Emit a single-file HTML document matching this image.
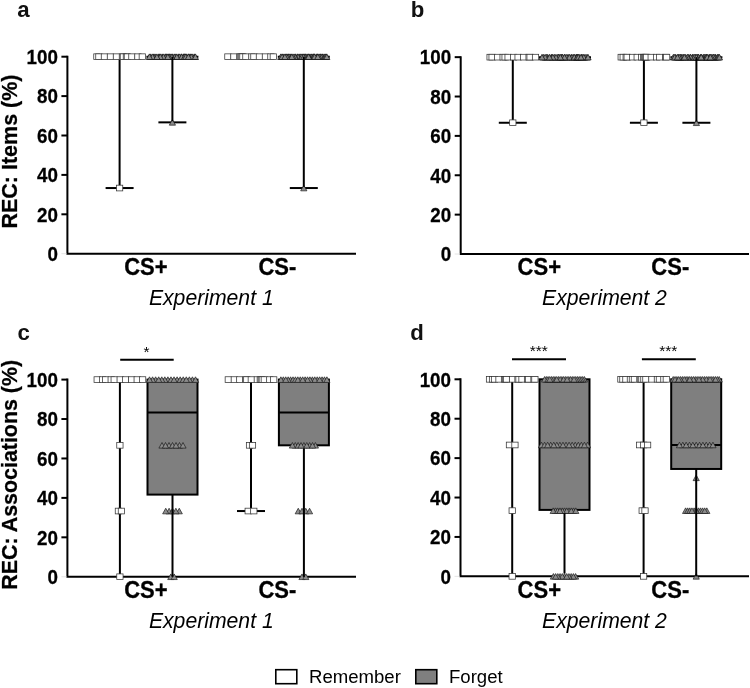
<!DOCTYPE html>
<html><head><meta charset="utf-8"><title>Figure</title>
<style>html,body{margin:0;padding:0;background:#fff;}svg{display:block;will-change:transform;}svg text{font-family:"Liberation Sans",sans-serif;}</style></head>
<body>
<svg width="750" height="688" viewBox="0 0 750 688" fill="#000">
<rect width="750" height="688" fill="#fff"/>
<path d="M67.4 55.7V253.7H356" fill="none" stroke="#000" stroke-width="2" stroke-linejoin="miter" stroke-linecap="butt"/><line x1="61.400" x2="66.4" y1="253.70" y2="253.70" stroke="#e4e4e4" stroke-width="1"/><text transform="translate(57.90,261.00) scale(1,1.11)" text-anchor="end" font-size="18.8" font-weight="bold" stroke="#000" stroke-width="0.25">0</text><line x1="61.400" x2="67.4" y1="214.30" y2="214.30" stroke="#000" stroke-width="2"/><text transform="translate(57.90,221.60) scale(1,1.11)" text-anchor="end" font-size="18.8" font-weight="bold" stroke="#000" stroke-width="0.25">20</text><line x1="61.400" x2="67.4" y1="174.90" y2="174.90" stroke="#000" stroke-width="2"/><text transform="translate(57.90,182.20) scale(1,1.11)" text-anchor="end" font-size="18.8" font-weight="bold" stroke="#000" stroke-width="0.25">40</text><line x1="61.400" x2="67.4" y1="135.50" y2="135.50" stroke="#000" stroke-width="2"/><text transform="translate(57.90,142.80) scale(1,1.11)" text-anchor="end" font-size="18.8" font-weight="bold" stroke="#000" stroke-width="0.25">60</text><line x1="61.400" x2="67.4" y1="96.10" y2="96.10" stroke="#000" stroke-width="2"/><text transform="translate(57.90,103.40) scale(1,1.11)" text-anchor="end" font-size="18.8" font-weight="bold" stroke="#000" stroke-width="0.25">80</text><line x1="61.400" x2="67.4" y1="56.70" y2="56.70" stroke="#000" stroke-width="2"/><text transform="translate(57.90,64.00) scale(1,1.11)" text-anchor="end" font-size="18.8" font-weight="bold" stroke="#000" stroke-width="0.25">100</text>
<path d="M460.7 56.15V254.0H749" fill="none" stroke="#000" stroke-width="2" stroke-linejoin="miter" stroke-linecap="butt"/><line x1="454.7" x2="459.7" y1="254.00" y2="254.00" stroke="#e4e4e4" stroke-width="1"/><text transform="translate(451.20,261.30) scale(1,1.11)" text-anchor="end" font-size="18.8" font-weight="bold" stroke="#000" stroke-width="0.25">0</text><line x1="454.7" x2="460.7" y1="214.63" y2="214.63" stroke="#000" stroke-width="2"/><text transform="translate(451.20,221.93) scale(1,1.11)" text-anchor="end" font-size="18.8" font-weight="bold" stroke="#000" stroke-width="0.25">20</text><line x1="454.7" x2="460.7" y1="175.26" y2="175.26" stroke="#000" stroke-width="2"/><text transform="translate(451.20,182.56) scale(1,1.11)" text-anchor="end" font-size="18.8" font-weight="bold" stroke="#000" stroke-width="0.25">40</text><line x1="454.7" x2="460.7" y1="135.89" y2="135.89" stroke="#000" stroke-width="2"/><text transform="translate(451.20,143.19) scale(1,1.11)" text-anchor="end" font-size="18.8" font-weight="bold" stroke="#000" stroke-width="0.25">60</text><line x1="454.7" x2="460.7" y1="96.52" y2="96.52" stroke="#000" stroke-width="2"/><text transform="translate(451.20,103.82) scale(1,1.11)" text-anchor="end" font-size="18.8" font-weight="bold" stroke="#000" stroke-width="0.25">80</text><line x1="454.7" x2="460.7" y1="57.15" y2="57.15" stroke="#000" stroke-width="2"/><text transform="translate(451.20,64.45) scale(1,1.11)" text-anchor="end" font-size="18.8" font-weight="bold" stroke="#000" stroke-width="0.25">100</text>
<path d="M67.4 378.6V576.75H356" fill="none" stroke="#000" stroke-width="2" stroke-linejoin="miter" stroke-linecap="butt"/><line x1="61.400" x2="66.4" y1="576.75" y2="576.75" stroke="#e4e4e4" stroke-width="1"/><text transform="translate(57.90,584.05) scale(1,1.11)" text-anchor="end" font-size="18.8" font-weight="bold" stroke="#000" stroke-width="0.25">0</text><line x1="61.400" x2="67.4" y1="537.32" y2="537.32" stroke="#000" stroke-width="2"/><text transform="translate(57.90,544.62) scale(1,1.11)" text-anchor="end" font-size="18.8" font-weight="bold" stroke="#000" stroke-width="0.25">20</text><line x1="61.400" x2="67.4" y1="497.89" y2="497.89" stroke="#000" stroke-width="2"/><text transform="translate(57.90,505.19) scale(1,1.11)" text-anchor="end" font-size="18.8" font-weight="bold" stroke="#000" stroke-width="0.25">40</text><line x1="61.400" x2="67.4" y1="458.46" y2="458.46" stroke="#000" stroke-width="2"/><text transform="translate(57.90,465.76) scale(1,1.11)" text-anchor="end" font-size="18.8" font-weight="bold" stroke="#000" stroke-width="0.25">60</text><line x1="61.400" x2="67.4" y1="419.03" y2="419.03" stroke="#000" stroke-width="2"/><text transform="translate(57.90,426.33) scale(1,1.11)" text-anchor="end" font-size="18.8" font-weight="bold" stroke="#000" stroke-width="0.25">80</text><line x1="61.400" x2="67.4" y1="379.60" y2="379.60" stroke="#000" stroke-width="2"/><text transform="translate(57.90,386.90) scale(1,1.11)" text-anchor="end" font-size="18.8" font-weight="bold" stroke="#000" stroke-width="0.25">100</text>
<path d="M460.5 378.3V576.35H749" fill="none" stroke="#000" stroke-width="2" stroke-linejoin="miter" stroke-linecap="butt"/><line x1="454.5" x2="459.5" y1="576.35" y2="576.35" stroke="#e4e4e4" stroke-width="1"/><text transform="translate(451.00,583.65) scale(1,1.11)" text-anchor="end" font-size="18.8" font-weight="bold" stroke="#000" stroke-width="0.25">0</text><line x1="454.5" x2="460.5" y1="536.94" y2="536.94" stroke="#000" stroke-width="2"/><text transform="translate(451.00,544.24) scale(1,1.11)" text-anchor="end" font-size="18.8" font-weight="bold" stroke="#000" stroke-width="0.25">20</text><line x1="454.5" x2="460.5" y1="497.53" y2="497.53" stroke="#000" stroke-width="2"/><text transform="translate(451.00,504.83) scale(1,1.11)" text-anchor="end" font-size="18.8" font-weight="bold" stroke="#000" stroke-width="0.25">40</text><line x1="454.5" x2="460.5" y1="458.12" y2="458.12" stroke="#000" stroke-width="2"/><text transform="translate(451.00,465.42) scale(1,1.11)" text-anchor="end" font-size="18.8" font-weight="bold" stroke="#000" stroke-width="0.25">60</text><line x1="454.5" x2="460.5" y1="418.71" y2="418.71" stroke="#000" stroke-width="2"/><text transform="translate(451.00,426.01) scale(1,1.11)" text-anchor="end" font-size="18.8" font-weight="bold" stroke="#000" stroke-width="0.25">80</text><line x1="454.5" x2="460.5" y1="379.30" y2="379.30" stroke="#000" stroke-width="2"/><text transform="translate(451.00,386.60) scale(1,1.11)" text-anchor="end" font-size="18.8" font-weight="bold" stroke="#000" stroke-width="0.25">100</text>










<line x1="120.2" x2="173.7" y1="359.8" y2="359.8" stroke="#000" stroke-width="2"/>
<text x="146.6" y="356.8" text-anchor="middle" font-size="15.5">*</text>




<line x1="512" x2="566" y1="359.2" y2="359.2" stroke="#000" stroke-width="2"/>
<text x="538.8" y="356.3" text-anchor="middle" font-size="15.5">***</text>
<line x1="641.9" x2="695.8" y1="359.2" y2="359.2" stroke="#000" stroke-width="2"/>
<text x="668.3" y="356.3" text-anchor="middle" font-size="15.5">***</text>
<line x1="105.6" x2="133.6" y1="188.04" y2="188.04" stroke="#000" stroke-width="2"/><line x1="158.4" x2="186.4" y1="122.36" y2="122.36" stroke="#000" stroke-width="2"/><line x1="289.8" x2="317.8" y1="188.04" y2="188.04" stroke="#000" stroke-width="2"/><line x1="146.4" x2="198.4" y1="56.70" y2="56.70" stroke="#000" stroke-width="2"/><line x1="277.8" x2="329.8" y1="56.70" y2="56.70" stroke="#000" stroke-width="2"/><line x1="498.799" x2="526.8" y1="122.76" y2="122.76" stroke="#000" stroke-width="2"/><line x1="629.9" x2="657.9" y1="122.76" y2="122.76" stroke="#000" stroke-width="2"/><line x1="682.4" x2="710.4" y1="122.76" y2="122.76" stroke="#000" stroke-width="2"/><line x1="539.0" x2="591.0" y1="57.15" y2="57.15" stroke="#000" stroke-width="2"/><line x1="670.4" x2="722.4" y1="57.15" y2="57.15" stroke="#000" stroke-width="2"/><rect x="147.50" y="379.60" width="50.00" height="115.00" fill="#7f7f7f" stroke="#000" stroke-width="2"/><line x1="147.50" x2="197.50" y1="412.46" y2="412.46" stroke="#000" stroke-width="2"/><line x1="237.0" x2="265.0" y1="511.04" y2="511.04" stroke="#000" stroke-width="2"/><rect x="278.90" y="379.60" width="50.00" height="65.71" fill="#7f7f7f" stroke="#000" stroke-width="2"/><line x1="278.90" x2="328.90" y1="412.46" y2="412.46" stroke="#000" stroke-width="2"/><rect x="539.50" y="379.30" width="50.00" height="130.60" fill="#7f7f7f" stroke="#000" stroke-width="2"/><line x1="539.50" x2="589.50" y1="446.30" y2="446.30" stroke="#000" stroke-width="2"/><rect x="671.20" y="379.30" width="50.00" height="89.66" fill="#7f7f7f" stroke="#000" stroke-width="2"/><line x1="671.20" x2="721.20" y1="444.98" y2="444.98" stroke="#000" stroke-width="2"/>
<path d="M169.30 125.16L172.40 119.56L175.50 125.16Z" fill="#8c8c8c" stroke="#1c1c1c" stroke-width="0.7" stroke-linejoin="miter"/><path d="M300.70 190.84L303.80 185.24L306.90 190.84Z" fill="#8c8c8c" stroke="#1c1c1c" stroke-width="0.7" stroke-linejoin="miter"/><path d="M169.30 59.50L172.40 53.90L175.50 59.50Z" fill="#8c8c8c" stroke="#151515" stroke-width="0.8" stroke-linejoin="miter"/><path d="M180.90 59.50L184.00 53.90L187.10 59.50Z" fill="#8c8c8c" stroke="#151515" stroke-width="0.8" stroke-linejoin="miter"/><path d="M162.10 59.50L165.20 53.90L168.30 59.50Z" fill="#8c8c8c" stroke="#151515" stroke-width="0.8" stroke-linejoin="miter"/><path d="M191.20 59.50L194.30 53.90L197.40 59.50Z" fill="#8c8c8c" stroke="#151515" stroke-width="0.8" stroke-linejoin="miter"/><path d="M185.80 59.50L188.90 53.90L192.00 59.50Z" fill="#8c8c8c" stroke="#151515" stroke-width="0.8" stroke-linejoin="miter"/><path d="M175.50 59.50L178.60 53.90L181.70 59.50Z" fill="#8c8c8c" stroke="#151515" stroke-width="0.8" stroke-linejoin="miter"/><path d="M172.40 59.50L175.50 53.90L178.60 59.50Z" fill="#8c8c8c" stroke="#151515" stroke-width="0.8" stroke-linejoin="miter"/><path d="M178.10 59.50L181.20 53.90L184.30 59.50Z" fill="#8c8c8c" stroke="#151515" stroke-width="0.8" stroke-linejoin="miter"/><path d="M165.70 59.50L168.80 53.90L171.90 59.50Z" fill="#8c8c8c" stroke="#151515" stroke-width="0.8" stroke-linejoin="miter"/><path d="M176.30 59.50L179.40 53.90L182.50 59.50Z" fill="#8c8c8c" stroke="#151515" stroke-width="0.8" stroke-linejoin="miter"/><path d="M171.10 59.50L174.20 53.90L177.30 59.50Z" fill="#8c8c8c" stroke="#151515" stroke-width="0.8" stroke-linejoin="miter"/><path d="M147.60 59.50L150.70 53.90L153.80 59.50Z" fill="#8c8c8c" stroke="#151515" stroke-width="0.8" stroke-linejoin="miter"/><path d="M155.60 59.50L158.70 53.90L161.80 59.50Z" fill="#8c8c8c" stroke="#151515" stroke-width="0.8" stroke-linejoin="miter"/><path d="M152.00 59.50L155.10 53.90L158.20 59.50Z" fill="#8c8c8c" stroke="#151515" stroke-width="0.8" stroke-linejoin="miter"/><path d="M163.40 59.50L166.50 53.90L169.60 59.50Z" fill="#8c8c8c" stroke="#151515" stroke-width="0.8" stroke-linejoin="miter"/><path d="M181.90 59.50L185.00 53.90L188.10 59.50Z" fill="#8c8c8c" stroke="#151515" stroke-width="0.8" stroke-linejoin="miter"/><path d="M162.90 59.50L166.00 53.90L169.10 59.50Z" fill="#8c8c8c" stroke="#151515" stroke-width="0.8" stroke-linejoin="miter"/><path d="M150.70 59.50L153.80 53.90L156.90 59.50Z" fill="#8c8c8c" stroke="#151515" stroke-width="0.8" stroke-linejoin="miter"/><path d="M189.40 59.50L192.50 53.90L195.60 59.50Z" fill="#8c8c8c" stroke="#151515" stroke-width="0.8" stroke-linejoin="miter"/><path d="M180.40 59.50L183.50 53.90L186.60 59.50Z" fill="#8c8c8c" stroke="#151515" stroke-width="0.8" stroke-linejoin="miter"/><path d="M187.10 59.50L190.20 53.90L193.30 59.50Z" fill="#8c8c8c" stroke="#151515" stroke-width="0.8" stroke-linejoin="miter"/><path d="M159.00 59.50L162.10 53.90L165.20 59.50Z" fill="#8c8c8c" stroke="#151515" stroke-width="0.8" stroke-linejoin="miter"/><path d="M166.50 59.50L169.60 53.90L172.70 59.50Z" fill="#8c8c8c" stroke="#151515" stroke-width="0.8" stroke-linejoin="miter"/><path d="M156.40 59.50L159.50 53.90L162.60 59.50Z" fill="#8c8c8c" stroke="#151515" stroke-width="0.8" stroke-linejoin="miter"/><path d="M160.30 59.50L163.40 53.90L166.50 59.50Z" fill="#8c8c8c" stroke="#151515" stroke-width="0.8" stroke-linejoin="miter"/><path d="M157.20 59.50L160.30 53.90L163.40 59.50Z" fill="#8c8c8c" stroke="#151515" stroke-width="0.8" stroke-linejoin="miter"/><path d="M173.70 59.50L176.80 53.90L179.90 59.50Z" fill="#8c8c8c" stroke="#151515" stroke-width="0.8" stroke-linejoin="miter"/><path d="M149.40 59.50L152.50 53.90L155.60 59.50Z" fill="#8c8c8c" stroke="#151515" stroke-width="0.8" stroke-linejoin="miter"/><path d="M188.10 59.50L191.20 53.90L194.30 59.50Z" fill="#8c8c8c" stroke="#151515" stroke-width="0.8" stroke-linejoin="miter"/><path d="M192.30 59.50L195.40 53.90L198.50 59.50Z" fill="#8c8c8c" stroke="#151515" stroke-width="0.8" stroke-linejoin="miter"/><path d="M183.50 59.50L186.60 53.90L189.70 59.50Z" fill="#8c8c8c" stroke="#151515" stroke-width="0.8" stroke-linejoin="miter"/><path d="M178.60 59.50L181.70 53.90L184.80 59.50Z" fill="#8c8c8c" stroke="#151515" stroke-width="0.8" stroke-linejoin="miter"/><path d="M167.00 59.50L170.10 53.90L173.20 59.50Z" fill="#8c8c8c" stroke="#151515" stroke-width="0.8" stroke-linejoin="miter"/><path d="M181.40 59.50L184.50 53.90L187.60 59.50Z" fill="#8c8c8c" stroke="#151515" stroke-width="0.8" stroke-linejoin="miter"/><path d="M153.80 59.50L156.90 53.90L160.00 59.50Z" fill="#8c8c8c" stroke="#151515" stroke-width="0.8" stroke-linejoin="miter"/><path d="M146.30 59.50L149.40 53.90L152.50 59.50Z" fill="#8c8c8c" stroke="#151515" stroke-width="0.8" stroke-linejoin="miter"/><path d="M182.70 59.50L185.80 53.90L188.90 59.50Z" fill="#8c8c8c" stroke="#151515" stroke-width="0.8" stroke-linejoin="miter"/><path d="M168.80 59.50L171.90 53.90L175.00 59.50Z" fill="#8c8c8c" stroke="#151515" stroke-width="0.8" stroke-linejoin="miter"/><path d="M164.70 59.50L167.80 53.90L170.90 59.50Z" fill="#8c8c8c" stroke="#151515" stroke-width="0.8" stroke-linejoin="miter"/><path d="M185.30 59.50L188.40 53.90L191.50 59.50Z" fill="#8c8c8c" stroke="#151515" stroke-width="0.8" stroke-linejoin="miter"/><path d="M294.40 59.50L297.50 53.90L300.60 59.50Z" fill="#8c8c8c" stroke="#151515" stroke-width="0.8" stroke-linejoin="miter"/><path d="M299.80 59.50L302.90 53.90L306.00 59.50Z" fill="#8c8c8c" stroke="#151515" stroke-width="0.8" stroke-linejoin="miter"/><path d="M296.70 59.50L299.80 53.90L302.90 59.50Z" fill="#8c8c8c" stroke="#151515" stroke-width="0.8" stroke-linejoin="miter"/><path d="M311.10 59.50L314.20 53.90L317.30 59.50Z" fill="#8c8c8c" stroke="#151515" stroke-width="0.8" stroke-linejoin="miter"/><path d="M297.50 59.50L300.60 53.90L303.70 59.50Z" fill="#8c8c8c" stroke="#151515" stroke-width="0.8" stroke-linejoin="miter"/><path d="M282.80 59.50L285.90 53.90L289.00 59.50Z" fill="#8c8c8c" stroke="#151515" stroke-width="0.8" stroke-linejoin="miter"/><path d="M319.90 59.50L323.00 53.90L326.10 59.50Z" fill="#8c8c8c" stroke="#151515" stroke-width="0.8" stroke-linejoin="miter"/><path d="M294.90 59.50L298.00 53.90L301.10 59.50Z" fill="#8c8c8c" stroke="#151515" stroke-width="0.8" stroke-linejoin="miter"/><path d="M307.80 59.50L310.90 53.90L314.00 59.50Z" fill="#8c8c8c" stroke="#151515" stroke-width="0.8" stroke-linejoin="miter"/><path d="M277.70 59.50L280.80 53.90L283.90 59.50Z" fill="#8c8c8c" stroke="#151515" stroke-width="0.8" stroke-linejoin="miter"/><path d="M308.80 59.50L311.90 53.90L315.00 59.50Z" fill="#8c8c8c" stroke="#151515" stroke-width="0.8" stroke-linejoin="miter"/><path d="M292.60 59.50L295.70 53.90L298.80 59.50Z" fill="#8c8c8c" stroke="#151515" stroke-width="0.8" stroke-linejoin="miter"/><path d="M313.40 59.50L316.50 53.90L319.60 59.50Z" fill="#8c8c8c" stroke="#151515" stroke-width="0.8" stroke-linejoin="miter"/><path d="M298.80 59.50L301.90 53.90L305.00 59.50Z" fill="#8c8c8c" stroke="#151515" stroke-width="0.8" stroke-linejoin="miter"/><path d="M317.30 59.50L320.40 53.90L323.50 59.50Z" fill="#8c8c8c" stroke="#151515" stroke-width="0.8" stroke-linejoin="miter"/><path d="M302.40 59.50L305.50 53.90L308.60 59.50Z" fill="#8c8c8c" stroke="#151515" stroke-width="0.8" stroke-linejoin="miter"/><path d="M319.10 59.50L322.20 53.90L325.30 59.50Z" fill="#8c8c8c" stroke="#151515" stroke-width="0.8" stroke-linejoin="miter"/><path d="M285.40 59.50L288.50 53.90L291.60 59.50Z" fill="#8c8c8c" stroke="#151515" stroke-width="0.8" stroke-linejoin="miter"/><path d="M317.80 59.50L320.90 53.90L324.00 59.50Z" fill="#8c8c8c" stroke="#151515" stroke-width="0.8" stroke-linejoin="miter"/><path d="M321.70 59.50L324.80 53.90L327.90 59.50Z" fill="#8c8c8c" stroke="#151515" stroke-width="0.8" stroke-linejoin="miter"/><path d="M287.70 59.50L290.80 53.90L293.90 59.50Z" fill="#8c8c8c" stroke="#151515" stroke-width="0.8" stroke-linejoin="miter"/><path d="M291.80 59.50L294.90 53.90L298.00 59.50Z" fill="#8c8c8c" stroke="#151515" stroke-width="0.8" stroke-linejoin="miter"/><path d="M310.10 59.50L313.20 53.90L316.30 59.50Z" fill="#8c8c8c" stroke="#151515" stroke-width="0.8" stroke-linejoin="miter"/><path d="M290.00 59.50L293.10 53.90L296.20 59.50Z" fill="#8c8c8c" stroke="#151515" stroke-width="0.8" stroke-linejoin="miter"/><path d="M286.40 59.50L289.50 53.90L292.60 59.50Z" fill="#8c8c8c" stroke="#151515" stroke-width="0.8" stroke-linejoin="miter"/><path d="M301.60 59.50L304.70 53.90L307.80 59.50Z" fill="#8c8c8c" stroke="#151515" stroke-width="0.8" stroke-linejoin="miter"/><path d="M316.00 59.50L319.10 53.90L322.20 59.50Z" fill="#8c8c8c" stroke="#151515" stroke-width="0.8" stroke-linejoin="miter"/><path d="M284.90 59.50L288.00 53.90L291.10 59.50Z" fill="#8c8c8c" stroke="#151515" stroke-width="0.8" stroke-linejoin="miter"/><path d="M280.00 59.50L283.10 53.90L286.20 59.50Z" fill="#8c8c8c" stroke="#151515" stroke-width="0.8" stroke-linejoin="miter"/><path d="M302.90 59.50L306.00 53.90L309.10 59.50Z" fill="#8c8c8c" stroke="#151515" stroke-width="0.8" stroke-linejoin="miter"/><path d="M300.60 59.50L303.70 53.90L306.80 59.50Z" fill="#8c8c8c" stroke="#151515" stroke-width="0.8" stroke-linejoin="miter"/><path d="M279.00 59.50L282.10 53.90L285.20 59.50Z" fill="#8c8c8c" stroke="#151515" stroke-width="0.8" stroke-linejoin="miter"/><path d="M304.70 59.50L307.80 53.90L310.90 59.50Z" fill="#8c8c8c" stroke="#151515" stroke-width="0.8" stroke-linejoin="miter"/><path d="M314.20 59.50L317.30 53.90L320.40 59.50Z" fill="#8c8c8c" stroke="#151515" stroke-width="0.8" stroke-linejoin="miter"/><path d="M310.60 59.50L313.70 53.90L316.80 59.50Z" fill="#8c8c8c" stroke="#151515" stroke-width="0.8" stroke-linejoin="miter"/><path d="M306.00 59.50L309.10 53.90L312.20 59.50Z" fill="#8c8c8c" stroke="#151515" stroke-width="0.8" stroke-linejoin="miter"/><path d="M305.50 59.50L308.60 53.90L311.70 59.50Z" fill="#8c8c8c" stroke="#151515" stroke-width="0.8" stroke-linejoin="miter"/><path d="M283.60 59.50L286.70 53.90L289.80 59.50Z" fill="#8c8c8c" stroke="#151515" stroke-width="0.8" stroke-linejoin="miter"/><path d="M311.60 59.50L314.70 53.90L317.80 59.50Z" fill="#8c8c8c" stroke="#151515" stroke-width="0.8" stroke-linejoin="miter"/><path d="M322.70 59.50L325.80 53.90L328.90 59.50Z" fill="#8c8c8c" stroke="#151515" stroke-width="0.8" stroke-linejoin="miter"/><path d="M323.70 59.50L326.80 53.90L329.90 59.50Z" fill="#8c8c8c" stroke="#151515" stroke-width="0.8" stroke-linejoin="miter"/><path d="M281.80 59.50L284.90 53.90L288.00 59.50Z" fill="#8c8c8c" stroke="#151515" stroke-width="0.8" stroke-linejoin="miter"/><path d="M288.70 59.50L291.80 53.90L294.90 59.50Z" fill="#8c8c8c" stroke="#151515" stroke-width="0.8" stroke-linejoin="miter"/><path d="M314.70 59.50L317.80 53.90L320.90 59.50Z" fill="#8c8c8c" stroke="#151515" stroke-width="0.8" stroke-linejoin="miter"/><path d="M693.30 125.56L696.40 119.96L699.50 125.56Z" fill="#8c8c8c" stroke="#1c1c1c" stroke-width="0.7" stroke-linejoin="miter"/><path d="M561.90 59.95L565.00 54.35L568.10 59.95Z" fill="#8c8c8c" stroke="#151515" stroke-width="0.8" stroke-linejoin="miter"/><path d="M573.50 59.95L576.60 54.35L579.70 59.95Z" fill="#8c8c8c" stroke="#151515" stroke-width="0.8" stroke-linejoin="miter"/><path d="M554.70 59.95L557.80 54.35L560.90 59.95Z" fill="#8c8c8c" stroke="#151515" stroke-width="0.8" stroke-linejoin="miter"/><path d="M583.80 59.95L586.90 54.35L590.00 59.95Z" fill="#8c8c8c" stroke="#151515" stroke-width="0.8" stroke-linejoin="miter"/><path d="M578.40 59.95L581.50 54.35L584.60 59.95Z" fill="#8c8c8c" stroke="#151515" stroke-width="0.8" stroke-linejoin="miter"/><path d="M568.10 59.95L571.20 54.35L574.30 59.95Z" fill="#8c8c8c" stroke="#151515" stroke-width="0.8" stroke-linejoin="miter"/><path d="M565.00 59.95L568.10 54.35L571.20 59.95Z" fill="#8c8c8c" stroke="#151515" stroke-width="0.8" stroke-linejoin="miter"/><path d="M570.70 59.95L573.80 54.35L576.90 59.95Z" fill="#8c8c8c" stroke="#151515" stroke-width="0.8" stroke-linejoin="miter"/><path d="M558.30 59.95L561.40 54.35L564.50 59.95Z" fill="#8c8c8c" stroke="#151515" stroke-width="0.8" stroke-linejoin="miter"/><path d="M568.90 59.95L572.00 54.35L575.10 59.95Z" fill="#8c8c8c" stroke="#151515" stroke-width="0.8" stroke-linejoin="miter"/><path d="M563.70 59.95L566.80 54.35L569.90 59.95Z" fill="#8c8c8c" stroke="#151515" stroke-width="0.8" stroke-linejoin="miter"/><path d="M540.20 59.95L543.30 54.35L546.40 59.95Z" fill="#8c8c8c" stroke="#151515" stroke-width="0.8" stroke-linejoin="miter"/><path d="M548.20 59.95L551.30 54.35L554.40 59.95Z" fill="#8c8c8c" stroke="#151515" stroke-width="0.8" stroke-linejoin="miter"/><path d="M544.60 59.95L547.70 54.35L550.80 59.95Z" fill="#8c8c8c" stroke="#151515" stroke-width="0.8" stroke-linejoin="miter"/><path d="M556.00 59.95L559.10 54.35L562.20 59.95Z" fill="#8c8c8c" stroke="#151515" stroke-width="0.8" stroke-linejoin="miter"/><path d="M574.50 59.95L577.60 54.35L580.70 59.95Z" fill="#8c8c8c" stroke="#151515" stroke-width="0.8" stroke-linejoin="miter"/><path d="M555.50 59.95L558.60 54.35L561.70 59.95Z" fill="#8c8c8c" stroke="#151515" stroke-width="0.8" stroke-linejoin="miter"/><path d="M543.30 59.95L546.40 54.35L549.50 59.95Z" fill="#8c8c8c" stroke="#151515" stroke-width="0.8" stroke-linejoin="miter"/><path d="M582.00 59.95L585.10 54.35L588.20 59.95Z" fill="#8c8c8c" stroke="#151515" stroke-width="0.8" stroke-linejoin="miter"/><path d="M573.00 59.95L576.10 54.35L579.20 59.95Z" fill="#8c8c8c" stroke="#151515" stroke-width="0.8" stroke-linejoin="miter"/><path d="M579.70 59.95L582.80 54.35L585.90 59.95Z" fill="#8c8c8c" stroke="#151515" stroke-width="0.8" stroke-linejoin="miter"/><path d="M551.60 59.95L554.70 54.35L557.80 59.95Z" fill="#8c8c8c" stroke="#151515" stroke-width="0.8" stroke-linejoin="miter"/><path d="M559.10 59.95L562.20 54.35L565.30 59.95Z" fill="#8c8c8c" stroke="#151515" stroke-width="0.8" stroke-linejoin="miter"/><path d="M549.00 59.95L552.10 54.35L555.20 59.95Z" fill="#8c8c8c" stroke="#151515" stroke-width="0.8" stroke-linejoin="miter"/><path d="M552.90 59.95L556.00 54.35L559.10 59.95Z" fill="#8c8c8c" stroke="#151515" stroke-width="0.8" stroke-linejoin="miter"/><path d="M549.80 59.95L552.90 54.35L556.00 59.95Z" fill="#8c8c8c" stroke="#151515" stroke-width="0.8" stroke-linejoin="miter"/><path d="M566.30 59.95L569.40 54.35L572.50 59.95Z" fill="#8c8c8c" stroke="#151515" stroke-width="0.8" stroke-linejoin="miter"/><path d="M542.00 59.95L545.10 54.35L548.20 59.95Z" fill="#8c8c8c" stroke="#151515" stroke-width="0.8" stroke-linejoin="miter"/><path d="M580.70 59.95L583.80 54.35L586.90 59.95Z" fill="#8c8c8c" stroke="#151515" stroke-width="0.8" stroke-linejoin="miter"/><path d="M584.90 59.95L588.00 54.35L591.10 59.95Z" fill="#8c8c8c" stroke="#151515" stroke-width="0.8" stroke-linejoin="miter"/><path d="M576.10 59.95L579.20 54.35L582.30 59.95Z" fill="#8c8c8c" stroke="#151515" stroke-width="0.8" stroke-linejoin="miter"/><path d="M571.20 59.95L574.30 54.35L577.40 59.95Z" fill="#8c8c8c" stroke="#151515" stroke-width="0.8" stroke-linejoin="miter"/><path d="M559.60 59.95L562.70 54.35L565.80 59.95Z" fill="#8c8c8c" stroke="#151515" stroke-width="0.8" stroke-linejoin="miter"/><path d="M574.00 59.95L577.10 54.35L580.20 59.95Z" fill="#8c8c8c" stroke="#151515" stroke-width="0.8" stroke-linejoin="miter"/><path d="M546.40 59.95L549.50 54.35L552.60 59.95Z" fill="#8c8c8c" stroke="#151515" stroke-width="0.8" stroke-linejoin="miter"/><path d="M538.90 59.95L542.00 54.35L545.10 59.95Z" fill="#8c8c8c" stroke="#151515" stroke-width="0.8" stroke-linejoin="miter"/><path d="M575.30 59.95L578.40 54.35L581.50 59.95Z" fill="#8c8c8c" stroke="#151515" stroke-width="0.8" stroke-linejoin="miter"/><path d="M561.40 59.95L564.50 54.35L567.60 59.95Z" fill="#8c8c8c" stroke="#151515" stroke-width="0.8" stroke-linejoin="miter"/><path d="M557.30 59.95L560.40 54.35L563.50 59.95Z" fill="#8c8c8c" stroke="#151515" stroke-width="0.8" stroke-linejoin="miter"/><path d="M577.90 59.95L581.00 54.35L584.10 59.95Z" fill="#8c8c8c" stroke="#151515" stroke-width="0.8" stroke-linejoin="miter"/><path d="M687.00 59.95L690.10 54.35L693.20 59.95Z" fill="#8c8c8c" stroke="#151515" stroke-width="0.8" stroke-linejoin="miter"/><path d="M692.40 59.95L695.50 54.35L698.60 59.95Z" fill="#8c8c8c" stroke="#151515" stroke-width="0.8" stroke-linejoin="miter"/><path d="M689.30 59.95L692.40 54.35L695.50 59.95Z" fill="#8c8c8c" stroke="#151515" stroke-width="0.8" stroke-linejoin="miter"/><path d="M703.70 59.95L706.80 54.35L709.90 59.95Z" fill="#8c8c8c" stroke="#151515" stroke-width="0.8" stroke-linejoin="miter"/><path d="M690.10 59.95L693.20 54.35L696.30 59.95Z" fill="#8c8c8c" stroke="#151515" stroke-width="0.8" stroke-linejoin="miter"/><path d="M675.40 59.95L678.50 54.35L681.60 59.95Z" fill="#8c8c8c" stroke="#151515" stroke-width="0.8" stroke-linejoin="miter"/><path d="M712.50 59.95L715.60 54.35L718.70 59.95Z" fill="#8c8c8c" stroke="#151515" stroke-width="0.8" stroke-linejoin="miter"/><path d="M687.50 59.95L690.60 54.35L693.70 59.95Z" fill="#8c8c8c" stroke="#151515" stroke-width="0.8" stroke-linejoin="miter"/><path d="M700.40 59.95L703.50 54.35L706.60 59.95Z" fill="#8c8c8c" stroke="#151515" stroke-width="0.8" stroke-linejoin="miter"/><path d="M670.30 59.95L673.40 54.35L676.50 59.95Z" fill="#8c8c8c" stroke="#151515" stroke-width="0.8" stroke-linejoin="miter"/><path d="M701.40 59.95L704.50 54.35L707.60 59.95Z" fill="#8c8c8c" stroke="#151515" stroke-width="0.8" stroke-linejoin="miter"/><path d="M685.20 59.95L688.30 54.35L691.40 59.95Z" fill="#8c8c8c" stroke="#151515" stroke-width="0.8" stroke-linejoin="miter"/><path d="M706.00 59.95L709.10 54.35L712.20 59.95Z" fill="#8c8c8c" stroke="#151515" stroke-width="0.8" stroke-linejoin="miter"/><path d="M691.40 59.95L694.50 54.35L697.60 59.95Z" fill="#8c8c8c" stroke="#151515" stroke-width="0.8" stroke-linejoin="miter"/><path d="M709.90 59.95L713.00 54.35L716.10 59.95Z" fill="#8c8c8c" stroke="#151515" stroke-width="0.8" stroke-linejoin="miter"/><path d="M695.00 59.95L698.10 54.35L701.20 59.95Z" fill="#8c8c8c" stroke="#151515" stroke-width="0.8" stroke-linejoin="miter"/><path d="M711.70 59.95L714.80 54.35L717.90 59.95Z" fill="#8c8c8c" stroke="#151515" stroke-width="0.8" stroke-linejoin="miter"/><path d="M678.00 59.95L681.10 54.35L684.20 59.95Z" fill="#8c8c8c" stroke="#151515" stroke-width="0.8" stroke-linejoin="miter"/><path d="M710.40 59.95L713.50 54.35L716.60 59.95Z" fill="#8c8c8c" stroke="#151515" stroke-width="0.8" stroke-linejoin="miter"/><path d="M714.30 59.95L717.40 54.35L720.50 59.95Z" fill="#8c8c8c" stroke="#151515" stroke-width="0.8" stroke-linejoin="miter"/><path d="M680.30 59.95L683.40 54.35L686.50 59.95Z" fill="#8c8c8c" stroke="#151515" stroke-width="0.8" stroke-linejoin="miter"/><path d="M684.40 59.95L687.50 54.35L690.60 59.95Z" fill="#8c8c8c" stroke="#151515" stroke-width="0.8" stroke-linejoin="miter"/><path d="M702.70 59.95L705.80 54.35L708.90 59.95Z" fill="#8c8c8c" stroke="#151515" stroke-width="0.8" stroke-linejoin="miter"/><path d="M682.60 59.95L685.70 54.35L688.80 59.95Z" fill="#8c8c8c" stroke="#151515" stroke-width="0.8" stroke-linejoin="miter"/><path d="M679.00 59.95L682.10 54.35L685.20 59.95Z" fill="#8c8c8c" stroke="#151515" stroke-width="0.8" stroke-linejoin="miter"/><path d="M694.20 59.95L697.30 54.35L700.40 59.95Z" fill="#8c8c8c" stroke="#151515" stroke-width="0.8" stroke-linejoin="miter"/><path d="M708.60 59.95L711.70 54.35L714.80 59.95Z" fill="#8c8c8c" stroke="#151515" stroke-width="0.8" stroke-linejoin="miter"/><path d="M677.50 59.95L680.60 54.35L683.70 59.95Z" fill="#8c8c8c" stroke="#151515" stroke-width="0.8" stroke-linejoin="miter"/><path d="M672.60 59.95L675.70 54.35L678.80 59.95Z" fill="#8c8c8c" stroke="#151515" stroke-width="0.8" stroke-linejoin="miter"/><path d="M695.50 59.95L698.60 54.35L701.70 59.95Z" fill="#8c8c8c" stroke="#151515" stroke-width="0.8" stroke-linejoin="miter"/><path d="M693.20 59.95L696.30 54.35L699.40 59.95Z" fill="#8c8c8c" stroke="#151515" stroke-width="0.8" stroke-linejoin="miter"/><path d="M671.60 59.95L674.70 54.35L677.80 59.95Z" fill="#8c8c8c" stroke="#151515" stroke-width="0.8" stroke-linejoin="miter"/><path d="M697.30 59.95L700.40 54.35L703.50 59.95Z" fill="#8c8c8c" stroke="#151515" stroke-width="0.8" stroke-linejoin="miter"/><path d="M706.80 59.95L709.90 54.35L713.00 59.95Z" fill="#8c8c8c" stroke="#151515" stroke-width="0.8" stroke-linejoin="miter"/><path d="M703.20 59.95L706.30 54.35L709.40 59.95Z" fill="#8c8c8c" stroke="#151515" stroke-width="0.8" stroke-linejoin="miter"/><path d="M698.60 59.95L701.70 54.35L704.80 59.95Z" fill="#8c8c8c" stroke="#151515" stroke-width="0.8" stroke-linejoin="miter"/><path d="M698.10 59.95L701.20 54.35L704.30 59.95Z" fill="#8c8c8c" stroke="#151515" stroke-width="0.8" stroke-linejoin="miter"/><path d="M676.20 59.95L679.30 54.35L682.40 59.95Z" fill="#8c8c8c" stroke="#151515" stroke-width="0.8" stroke-linejoin="miter"/><path d="M704.20 59.95L707.30 54.35L710.40 59.95Z" fill="#8c8c8c" stroke="#151515" stroke-width="0.8" stroke-linejoin="miter"/><path d="M715.30 59.95L718.40 54.35L721.50 59.95Z" fill="#8c8c8c" stroke="#151515" stroke-width="0.8" stroke-linejoin="miter"/><path d="M716.30 59.95L719.40 54.35L722.50 59.95Z" fill="#8c8c8c" stroke="#151515" stroke-width="0.8" stroke-linejoin="miter"/><path d="M674.40 59.95L677.50 54.35L680.60 59.95Z" fill="#8c8c8c" stroke="#151515" stroke-width="0.8" stroke-linejoin="miter"/><path d="M681.30 59.95L684.40 54.35L687.50 59.95Z" fill="#8c8c8c" stroke="#151515" stroke-width="0.8" stroke-linejoin="miter"/><path d="M707.30 59.95L710.40 54.35L713.50 59.95Z" fill="#8c8c8c" stroke="#151515" stroke-width="0.8" stroke-linejoin="miter"/><path d="M164.80 382.40L167.90 376.80L171.00 382.40Z" fill="#8c8c8c" stroke="#1c1c1c" stroke-width="0.7" stroke-linejoin="miter"/><path d="M161.73 382.40L164.83 376.80L167.93 382.40Z" fill="#8c8c8c" stroke="#1c1c1c" stroke-width="0.7" stroke-linejoin="miter"/><path d="M189.33 382.40L192.43 376.80L195.53 382.40Z" fill="#8c8c8c" stroke="#1c1c1c" stroke-width="0.7" stroke-linejoin="miter"/><path d="M174.00 382.40L177.10 376.80L180.20 382.40Z" fill="#8c8c8c" stroke="#1c1c1c" stroke-width="0.7" stroke-linejoin="miter"/><path d="M177.07 382.40L180.17 376.80L183.27 382.40Z" fill="#8c8c8c" stroke="#1c1c1c" stroke-width="0.7" stroke-linejoin="miter"/><path d="M152.53 382.40L155.63 376.80L158.73 382.40Z" fill="#8c8c8c" stroke="#1c1c1c" stroke-width="0.7" stroke-linejoin="miter"/><path d="M167.87 382.40L170.97 376.80L174.07 382.40Z" fill="#8c8c8c" stroke="#1c1c1c" stroke-width="0.7" stroke-linejoin="miter"/><path d="M149.47 382.40L152.57 376.80L155.67 382.40Z" fill="#8c8c8c" stroke="#1c1c1c" stroke-width="0.7" stroke-linejoin="miter"/><path d="M170.93 382.40L174.03 376.80L177.13 382.40Z" fill="#8c8c8c" stroke="#1c1c1c" stroke-width="0.7" stroke-linejoin="miter"/><path d="M158.67 382.40L161.77 376.80L164.87 382.40Z" fill="#8c8c8c" stroke="#1c1c1c" stroke-width="0.7" stroke-linejoin="miter"/><path d="M192.40 382.40L195.50 376.80L198.60 382.40Z" fill="#8c8c8c" stroke="#1c1c1c" stroke-width="0.7" stroke-linejoin="miter"/><path d="M186.27 382.40L189.37 376.80L192.47 382.40Z" fill="#8c8c8c" stroke="#1c1c1c" stroke-width="0.7" stroke-linejoin="miter"/><path d="M155.60 382.40L158.70 376.80L161.80 382.40Z" fill="#8c8c8c" stroke="#1c1c1c" stroke-width="0.7" stroke-linejoin="miter"/><path d="M146.40 382.40L149.50 376.80L152.60 382.40Z" fill="#8c8c8c" stroke="#1c1c1c" stroke-width="0.7" stroke-linejoin="miter"/><path d="M180.13 382.40L183.23 376.80L186.33 382.40Z" fill="#8c8c8c" stroke="#1c1c1c" stroke-width="0.7" stroke-linejoin="miter"/><path d="M183.20 382.40L186.30 376.80L189.40 382.40Z" fill="#8c8c8c" stroke="#1c1c1c" stroke-width="0.7" stroke-linejoin="miter"/><path d="M314.12 382.40L317.22 376.80L320.32 382.40Z" fill="#8c8c8c" stroke="#1c1c1c" stroke-width="0.7" stroke-linejoin="miter"/><path d="M287.48 382.40L290.58 376.80L293.68 382.40Z" fill="#8c8c8c" stroke="#1c1c1c" stroke-width="0.7" stroke-linejoin="miter"/><path d="M289.91 382.40L293.01 376.80L296.11 382.40Z" fill="#8c8c8c" stroke="#1c1c1c" stroke-width="0.7" stroke-linejoin="miter"/><path d="M309.27 382.40L312.37 376.80L315.47 382.40Z" fill="#8c8c8c" stroke="#1c1c1c" stroke-width="0.7" stroke-linejoin="miter"/><path d="M318.96 382.40L322.06 376.80L325.16 382.40Z" fill="#8c8c8c" stroke="#1c1c1c" stroke-width="0.7" stroke-linejoin="miter"/><path d="M285.06 382.40L288.16 376.80L291.26 382.40Z" fill="#8c8c8c" stroke="#1c1c1c" stroke-width="0.7" stroke-linejoin="miter"/><path d="M280.22 382.40L283.32 376.80L286.42 382.40Z" fill="#8c8c8c" stroke="#1c1c1c" stroke-width="0.7" stroke-linejoin="miter"/><path d="M297.17 382.40L300.27 376.80L303.37 382.40Z" fill="#8c8c8c" stroke="#1c1c1c" stroke-width="0.7" stroke-linejoin="miter"/><path d="M311.69 382.40L314.79 376.80L317.89 382.40Z" fill="#8c8c8c" stroke="#1c1c1c" stroke-width="0.7" stroke-linejoin="miter"/><path d="M306.85 382.40L309.95 376.80L313.05 382.40Z" fill="#8c8c8c" stroke="#1c1c1c" stroke-width="0.7" stroke-linejoin="miter"/><path d="M292.33 382.40L295.43 376.80L298.53 382.40Z" fill="#8c8c8c" stroke="#1c1c1c" stroke-width="0.7" stroke-linejoin="miter"/><path d="M321.38 382.40L324.48 376.80L327.58 382.40Z" fill="#8c8c8c" stroke="#1c1c1c" stroke-width="0.7" stroke-linejoin="miter"/><path d="M277.80 382.40L280.90 376.80L284.00 382.40Z" fill="#8c8c8c" stroke="#1c1c1c" stroke-width="0.7" stroke-linejoin="miter"/><path d="M294.75 382.40L297.85 376.80L300.95 382.40Z" fill="#8c8c8c" stroke="#1c1c1c" stroke-width="0.7" stroke-linejoin="miter"/><path d="M316.54 382.40L319.64 376.80L322.74 382.40Z" fill="#8c8c8c" stroke="#1c1c1c" stroke-width="0.7" stroke-linejoin="miter"/><path d="M282.64 382.40L285.74 376.80L288.84 382.40Z" fill="#8c8c8c" stroke="#1c1c1c" stroke-width="0.7" stroke-linejoin="miter"/><path d="M323.80 382.40L326.90 376.80L330.00 382.40Z" fill="#8c8c8c" stroke="#1c1c1c" stroke-width="0.7" stroke-linejoin="miter"/><path d="M302.01 382.40L305.11 376.80L308.21 382.40Z" fill="#8c8c8c" stroke="#1c1c1c" stroke-width="0.7" stroke-linejoin="miter"/><path d="M304.43 382.40L307.53 376.80L310.63 382.40Z" fill="#8c8c8c" stroke="#1c1c1c" stroke-width="0.7" stroke-linejoin="miter"/><path d="M299.59 382.40L302.69 376.80L305.79 382.40Z" fill="#8c8c8c" stroke="#1c1c1c" stroke-width="0.7" stroke-linejoin="miter"/><path d="M176.40 448.11L179.50 442.51L182.60 448.11Z" fill="#8c8c8c" stroke="#1c1c1c" stroke-width="0.7" stroke-linejoin="miter"/><path d="M158.90 448.11L162.00 442.51L165.10 448.11Z" fill="#8c8c8c" stroke="#1c1c1c" stroke-width="0.7" stroke-linejoin="miter"/><path d="M165.90 448.11L169.00 442.51L172.10 448.11Z" fill="#8c8c8c" stroke="#1c1c1c" stroke-width="0.7" stroke-linejoin="miter"/><path d="M169.40 448.11L172.50 442.51L175.60 448.11Z" fill="#8c8c8c" stroke="#1c1c1c" stroke-width="0.7" stroke-linejoin="miter"/><path d="M172.90 448.11L176.00 442.51L179.10 448.11Z" fill="#8c8c8c" stroke="#1c1c1c" stroke-width="0.7" stroke-linejoin="miter"/><path d="M162.40 448.11L165.50 442.51L168.60 448.11Z" fill="#8c8c8c" stroke="#1c1c1c" stroke-width="0.7" stroke-linejoin="miter"/><path d="M179.90 448.11L183.00 442.51L186.10 448.11Z" fill="#8c8c8c" stroke="#1c1c1c" stroke-width="0.7" stroke-linejoin="miter"/><path d="M166.03 513.84L169.12 508.24L172.22 513.84Z" fill="#8c8c8c" stroke="#1c1c1c" stroke-width="0.7" stroke-linejoin="miter"/><path d="M176.15 513.84L179.25 508.24L182.35 513.84Z" fill="#8c8c8c" stroke="#1c1c1c" stroke-width="0.7" stroke-linejoin="miter"/><path d="M162.65 513.84L165.75 508.24L168.85 513.84Z" fill="#8c8c8c" stroke="#1c1c1c" stroke-width="0.7" stroke-linejoin="miter"/><path d="M169.40 513.84L172.50 508.24L175.60 513.84Z" fill="#8c8c8c" stroke="#1c1c1c" stroke-width="0.7" stroke-linejoin="miter"/><path d="M172.78 513.84L175.88 508.24L178.97 513.84Z" fill="#8c8c8c" stroke="#1c1c1c" stroke-width="0.7" stroke-linejoin="miter"/><path d="M167.70 579.55L170.80 573.95L173.90 579.55Z" fill="#8c8c8c" stroke="#1c1c1c" stroke-width="0.7" stroke-linejoin="miter"/><path d="M171.10 579.55L174.20 573.95L177.30 579.55Z" fill="#8c8c8c" stroke="#1c1c1c" stroke-width="0.7" stroke-linejoin="miter"/><path d="M306.55 448.11L309.65 442.51L312.75 448.11Z" fill="#8c8c8c" stroke="#1c1c1c" stroke-width="0.7" stroke-linejoin="miter"/><path d="M300.80 448.11L303.90 442.51L307.00 448.11Z" fill="#8c8c8c" stroke="#1c1c1c" stroke-width="0.7" stroke-linejoin="miter"/><path d="M292.17 448.11L295.27 442.51L298.38 448.11Z" fill="#8c8c8c" stroke="#1c1c1c" stroke-width="0.7" stroke-linejoin="miter"/><path d="M289.30 448.11L292.40 442.51L295.50 448.11Z" fill="#8c8c8c" stroke="#1c1c1c" stroke-width="0.7" stroke-linejoin="miter"/><path d="M295.05 448.11L298.15 442.51L301.25 448.11Z" fill="#8c8c8c" stroke="#1c1c1c" stroke-width="0.7" stroke-linejoin="miter"/><path d="M312.30 448.11L315.40 442.51L318.50 448.11Z" fill="#8c8c8c" stroke="#1c1c1c" stroke-width="0.7" stroke-linejoin="miter"/><path d="M303.67 448.11L306.77 442.51L309.88 448.11Z" fill="#8c8c8c" stroke="#1c1c1c" stroke-width="0.7" stroke-linejoin="miter"/><path d="M309.42 448.11L312.52 442.51L315.62 448.11Z" fill="#8c8c8c" stroke="#1c1c1c" stroke-width="0.7" stroke-linejoin="miter"/><path d="M297.92 448.11L301.02 442.51L304.12 448.11Z" fill="#8c8c8c" stroke="#1c1c1c" stroke-width="0.7" stroke-linejoin="miter"/><path d="M302.68 513.84L305.78 508.24L308.88 513.84Z" fill="#8c8c8c" stroke="#1c1c1c" stroke-width="0.7" stroke-linejoin="miter"/><path d="M295.15 513.84L298.25 508.24L301.35 513.84Z" fill="#8c8c8c" stroke="#1c1c1c" stroke-width="0.7" stroke-linejoin="miter"/><path d="M306.45 513.84L309.55 508.24L312.65 513.84Z" fill="#8c8c8c" stroke="#1c1c1c" stroke-width="0.7" stroke-linejoin="miter"/><path d="M298.92 513.84L302.02 508.24L305.12 513.84Z" fill="#8c8c8c" stroke="#1c1c1c" stroke-width="0.7" stroke-linejoin="miter"/><path d="M298.90 579.55L302.00 573.95L305.10 579.55Z" fill="#8c8c8c" stroke="#1c1c1c" stroke-width="0.7" stroke-linejoin="miter"/><path d="M302.70 579.55L305.80 573.95L308.90 579.55Z" fill="#8c8c8c" stroke="#1c1c1c" stroke-width="0.7" stroke-linejoin="miter"/><path d="M558.80 382.10L561.90 376.50L565.00 382.10Z" fill="#8c8c8c" stroke="#1c1c1c" stroke-width="0.7" stroke-linejoin="miter"/><path d="M551.88 382.10L554.98 376.50L558.08 382.10Z" fill="#8c8c8c" stroke="#1c1c1c" stroke-width="0.7" stroke-linejoin="miter"/><path d="M550.15 382.10L553.25 376.50L556.35 382.10Z" fill="#8c8c8c" stroke="#1c1c1c" stroke-width="0.7" stroke-linejoin="miter"/><path d="M569.19 382.10L572.29 376.50L575.39 382.10Z" fill="#8c8c8c" stroke="#1c1c1c" stroke-width="0.7" stroke-linejoin="miter"/><path d="M555.34 382.10L558.44 376.50L561.54 382.10Z" fill="#8c8c8c" stroke="#1c1c1c" stroke-width="0.7" stroke-linejoin="miter"/><path d="M581.30 382.10L584.40 376.50L587.50 382.10Z" fill="#8c8c8c" stroke="#1c1c1c" stroke-width="0.7" stroke-linejoin="miter"/><path d="M548.42 382.10L551.52 376.50L554.62 382.10Z" fill="#8c8c8c" stroke="#1c1c1c" stroke-width="0.7" stroke-linejoin="miter"/><path d="M579.57 382.10L582.67 376.50L585.77 382.10Z" fill="#8c8c8c" stroke="#1c1c1c" stroke-width="0.7" stroke-linejoin="miter"/><path d="M543.23 382.10L546.33 376.50L549.43 382.10Z" fill="#8c8c8c" stroke="#1c1c1c" stroke-width="0.7" stroke-linejoin="miter"/><path d="M562.27 382.10L565.37 376.50L568.47 382.10Z" fill="#8c8c8c" stroke="#1c1c1c" stroke-width="0.7" stroke-linejoin="miter"/><path d="M541.50 382.10L544.60 376.50L547.70 382.10Z" fill="#8c8c8c" stroke="#1c1c1c" stroke-width="0.7" stroke-linejoin="miter"/><path d="M557.07 382.10L560.17 376.50L563.27 382.10Z" fill="#8c8c8c" stroke="#1c1c1c" stroke-width="0.7" stroke-linejoin="miter"/><path d="M577.84 382.10L580.94 376.50L584.04 382.10Z" fill="#8c8c8c" stroke="#1c1c1c" stroke-width="0.7" stroke-linejoin="miter"/><path d="M576.11 382.10L579.21 376.50L582.31 382.10Z" fill="#8c8c8c" stroke="#1c1c1c" stroke-width="0.7" stroke-linejoin="miter"/><path d="M574.38 382.10L577.48 376.50L580.58 382.10Z" fill="#8c8c8c" stroke="#1c1c1c" stroke-width="0.7" stroke-linejoin="miter"/><path d="M565.73 382.10L568.83 376.50L571.93 382.10Z" fill="#8c8c8c" stroke="#1c1c1c" stroke-width="0.7" stroke-linejoin="miter"/><path d="M544.96 382.10L548.06 376.50L551.16 382.10Z" fill="#8c8c8c" stroke="#1c1c1c" stroke-width="0.7" stroke-linejoin="miter"/><path d="M546.69 382.10L549.79 376.50L552.89 382.10Z" fill="#8c8c8c" stroke="#1c1c1c" stroke-width="0.7" stroke-linejoin="miter"/><path d="M560.53 382.10L563.63 376.50L566.73 382.10Z" fill="#8c8c8c" stroke="#1c1c1c" stroke-width="0.7" stroke-linejoin="miter"/><path d="M572.65 382.10L575.75 376.50L578.85 382.10Z" fill="#8c8c8c" stroke="#1c1c1c" stroke-width="0.7" stroke-linejoin="miter"/><path d="M553.61 382.10L556.71 376.50L559.81 382.10Z" fill="#8c8c8c" stroke="#1c1c1c" stroke-width="0.7" stroke-linejoin="miter"/><path d="M567.46 382.10L570.56 376.50L573.66 382.10Z" fill="#8c8c8c" stroke="#1c1c1c" stroke-width="0.7" stroke-linejoin="miter"/><path d="M570.92 382.10L574.02 376.50L577.12 382.10Z" fill="#8c8c8c" stroke="#1c1c1c" stroke-width="0.7" stroke-linejoin="miter"/><path d="M564.00 382.10L567.10 376.50L570.20 382.10Z" fill="#8c8c8c" stroke="#1c1c1c" stroke-width="0.7" stroke-linejoin="miter"/><path d="M710.58 382.10L713.68 376.50L716.78 382.10Z" fill="#8c8c8c" stroke="#1c1c1c" stroke-width="0.7" stroke-linejoin="miter"/><path d="M697.70 382.10L700.80 376.50L703.90 382.10Z" fill="#8c8c8c" stroke="#1c1c1c" stroke-width="0.7" stroke-linejoin="miter"/><path d="M705.06 382.10L708.16 376.50L711.26 382.10Z" fill="#8c8c8c" stroke="#1c1c1c" stroke-width="0.7" stroke-linejoin="miter"/><path d="M692.18 382.10L695.28 376.50L698.38 382.10Z" fill="#8c8c8c" stroke="#1c1c1c" stroke-width="0.7" stroke-linejoin="miter"/><path d="M679.30 382.10L682.40 376.50L685.50 382.10Z" fill="#8c8c8c" stroke="#1c1c1c" stroke-width="0.7" stroke-linejoin="miter"/><path d="M684.82 382.10L687.92 376.50L691.02 382.10Z" fill="#8c8c8c" stroke="#1c1c1c" stroke-width="0.7" stroke-linejoin="miter"/><path d="M670.10 382.10L673.20 376.50L676.30 382.10Z" fill="#8c8c8c" stroke="#1c1c1c" stroke-width="0.7" stroke-linejoin="miter"/><path d="M682.98 382.10L686.08 376.50L689.18 382.10Z" fill="#8c8c8c" stroke="#1c1c1c" stroke-width="0.7" stroke-linejoin="miter"/><path d="M688.50 382.10L691.60 376.50L694.70 382.10Z" fill="#8c8c8c" stroke="#1c1c1c" stroke-width="0.7" stroke-linejoin="miter"/><path d="M673.78 382.10L676.88 376.50L679.98 382.10Z" fill="#8c8c8c" stroke="#1c1c1c" stroke-width="0.7" stroke-linejoin="miter"/><path d="M681.14 382.10L684.24 376.50L687.34 382.10Z" fill="#8c8c8c" stroke="#1c1c1c" stroke-width="0.7" stroke-linejoin="miter"/><path d="M701.38 382.10L704.48 376.50L707.58 382.10Z" fill="#8c8c8c" stroke="#1c1c1c" stroke-width="0.7" stroke-linejoin="miter"/><path d="M716.10 382.10L719.20 376.50L722.30 382.10Z" fill="#8c8c8c" stroke="#1c1c1c" stroke-width="0.7" stroke-linejoin="miter"/><path d="M708.74 382.10L711.84 376.50L714.94 382.10Z" fill="#8c8c8c" stroke="#1c1c1c" stroke-width="0.7" stroke-linejoin="miter"/><path d="M714.26 382.10L717.36 376.50L720.46 382.10Z" fill="#8c8c8c" stroke="#1c1c1c" stroke-width="0.7" stroke-linejoin="miter"/><path d="M694.02 382.10L697.12 376.50L700.22 382.10Z" fill="#8c8c8c" stroke="#1c1c1c" stroke-width="0.7" stroke-linejoin="miter"/><path d="M671.94 382.10L675.04 376.50L678.14 382.10Z" fill="#8c8c8c" stroke="#1c1c1c" stroke-width="0.7" stroke-linejoin="miter"/><path d="M690.34 382.10L693.44 376.50L696.54 382.10Z" fill="#8c8c8c" stroke="#1c1c1c" stroke-width="0.7" stroke-linejoin="miter"/><path d="M677.46 382.10L680.56 376.50L683.66 382.10Z" fill="#8c8c8c" stroke="#1c1c1c" stroke-width="0.7" stroke-linejoin="miter"/><path d="M703.22 382.10L706.32 376.50L709.42 382.10Z" fill="#8c8c8c" stroke="#1c1c1c" stroke-width="0.7" stroke-linejoin="miter"/><path d="M712.42 382.10L715.52 376.50L718.62 382.10Z" fill="#8c8c8c" stroke="#1c1c1c" stroke-width="0.7" stroke-linejoin="miter"/><path d="M699.54 382.10L702.64 376.50L705.74 382.10Z" fill="#8c8c8c" stroke="#1c1c1c" stroke-width="0.7" stroke-linejoin="miter"/><path d="M675.62 382.10L678.72 376.50L681.82 382.10Z" fill="#8c8c8c" stroke="#1c1c1c" stroke-width="0.7" stroke-linejoin="miter"/><path d="M686.66 382.10L689.76 376.50L692.86 382.10Z" fill="#8c8c8c" stroke="#1c1c1c" stroke-width="0.7" stroke-linejoin="miter"/><path d="M695.86 382.10L698.96 376.50L702.06 382.10Z" fill="#8c8c8c" stroke="#1c1c1c" stroke-width="0.7" stroke-linejoin="miter"/><path d="M706.90 382.10L710.00 376.50L713.10 382.10Z" fill="#8c8c8c" stroke="#1c1c1c" stroke-width="0.7" stroke-linejoin="miter"/><path d="M584.40 447.78L587.50 442.18L590.60 447.78Z" fill="#8c8c8c" stroke="#1c1c1c" stroke-width="0.7" stroke-linejoin="miter"/><path d="M547.60 447.78L550.70 442.18L553.80 447.78Z" fill="#8c8c8c" stroke="#1c1c1c" stroke-width="0.7" stroke-linejoin="miter"/><path d="M562.93 447.78L566.03 442.18L569.13 447.78Z" fill="#8c8c8c" stroke="#1c1c1c" stroke-width="0.7" stroke-linejoin="miter"/><path d="M556.80 447.78L559.90 442.18L563.00 447.78Z" fill="#8c8c8c" stroke="#1c1c1c" stroke-width="0.7" stroke-linejoin="miter"/><path d="M553.73 447.78L556.83 442.18L559.93 447.78Z" fill="#8c8c8c" stroke="#1c1c1c" stroke-width="0.7" stroke-linejoin="miter"/><path d="M538.40 447.78L541.50 442.18L544.60 447.78Z" fill="#8c8c8c" stroke="#1c1c1c" stroke-width="0.7" stroke-linejoin="miter"/><path d="M572.13 447.78L575.23 442.18L578.33 447.78Z" fill="#8c8c8c" stroke="#1c1c1c" stroke-width="0.7" stroke-linejoin="miter"/><path d="M541.47 447.78L544.57 442.18L547.67 447.78Z" fill="#8c8c8c" stroke="#1c1c1c" stroke-width="0.7" stroke-linejoin="miter"/><path d="M550.67 447.78L553.77 442.18L556.87 447.78Z" fill="#8c8c8c" stroke="#1c1c1c" stroke-width="0.7" stroke-linejoin="miter"/><path d="M544.53 447.78L547.63 442.18L550.73 447.78Z" fill="#8c8c8c" stroke="#1c1c1c" stroke-width="0.7" stroke-linejoin="miter"/><path d="M575.20 447.78L578.30 442.18L581.40 447.78Z" fill="#8c8c8c" stroke="#1c1c1c" stroke-width="0.7" stroke-linejoin="miter"/><path d="M569.07 447.78L572.17 442.18L575.27 447.78Z" fill="#8c8c8c" stroke="#1c1c1c" stroke-width="0.7" stroke-linejoin="miter"/><path d="M559.87 447.78L562.97 442.18L566.07 447.78Z" fill="#8c8c8c" stroke="#1c1c1c" stroke-width="0.7" stroke-linejoin="miter"/><path d="M566.00 447.78L569.10 442.18L572.20 447.78Z" fill="#8c8c8c" stroke="#1c1c1c" stroke-width="0.7" stroke-linejoin="miter"/><path d="M578.27 447.78L581.37 442.18L584.47 447.78Z" fill="#8c8c8c" stroke="#1c1c1c" stroke-width="0.7" stroke-linejoin="miter"/><path d="M581.33 447.78L584.43 442.18L587.53 447.78Z" fill="#8c8c8c" stroke="#1c1c1c" stroke-width="0.7" stroke-linejoin="miter"/><path d="M561.40 513.47L564.50 507.87L567.60 513.47Z" fill="#8c8c8c" stroke="#1c1c1c" stroke-width="0.7" stroke-linejoin="miter"/><path d="M552.36 513.47L555.46 507.87L558.56 513.47Z" fill="#8c8c8c" stroke="#1c1c1c" stroke-width="0.7" stroke-linejoin="miter"/><path d="M565.92 513.47L569.02 507.87L572.12 513.47Z" fill="#8c8c8c" stroke="#1c1c1c" stroke-width="0.7" stroke-linejoin="miter"/><path d="M570.44 513.47L573.54 507.87L576.64 513.47Z" fill="#8c8c8c" stroke="#1c1c1c" stroke-width="0.7" stroke-linejoin="miter"/><path d="M550.10 513.47L553.20 507.87L556.30 513.47Z" fill="#8c8c8c" stroke="#1c1c1c" stroke-width="0.7" stroke-linejoin="miter"/><path d="M563.66 513.47L566.76 507.87L569.86 513.47Z" fill="#8c8c8c" stroke="#1c1c1c" stroke-width="0.7" stroke-linejoin="miter"/><path d="M554.62 513.47L557.72 507.87L560.82 513.47Z" fill="#8c8c8c" stroke="#1c1c1c" stroke-width="0.7" stroke-linejoin="miter"/><path d="M568.18 513.47L571.28 507.87L574.38 513.47Z" fill="#8c8c8c" stroke="#1c1c1c" stroke-width="0.7" stroke-linejoin="miter"/><path d="M559.14 513.47L562.24 507.87L565.34 513.47Z" fill="#8c8c8c" stroke="#1c1c1c" stroke-width="0.7" stroke-linejoin="miter"/><path d="M556.88 513.47L559.98 507.87L563.08 513.47Z" fill="#8c8c8c" stroke="#1c1c1c" stroke-width="0.7" stroke-linejoin="miter"/><path d="M572.70 513.47L575.80 507.87L578.90 513.47Z" fill="#8c8c8c" stroke="#1c1c1c" stroke-width="0.7" stroke-linejoin="miter"/><path d="M572.50 579.15L575.60 573.55L578.70 579.15Z" fill="#8c8c8c" stroke="#1c1c1c" stroke-width="0.7" stroke-linejoin="miter"/><path d="M556.96 579.15L560.06 573.55L563.16 579.15Z" fill="#8c8c8c" stroke="#1c1c1c" stroke-width="0.7" stroke-linejoin="miter"/><path d="M561.40 579.15L564.50 573.55L567.60 579.15Z" fill="#8c8c8c" stroke="#1c1c1c" stroke-width="0.7" stroke-linejoin="miter"/><path d="M559.18 579.15L562.28 573.55L565.38 579.15Z" fill="#8c8c8c" stroke="#1c1c1c" stroke-width="0.7" stroke-linejoin="miter"/><path d="M550.30 579.15L553.40 573.55L556.50 579.15Z" fill="#8c8c8c" stroke="#1c1c1c" stroke-width="0.7" stroke-linejoin="miter"/><path d="M568.06 579.15L571.16 573.55L574.26 579.15Z" fill="#8c8c8c" stroke="#1c1c1c" stroke-width="0.7" stroke-linejoin="miter"/><path d="M554.74 579.15L557.84 573.55L560.94 579.15Z" fill="#8c8c8c" stroke="#1c1c1c" stroke-width="0.7" stroke-linejoin="miter"/><path d="M570.28 579.15L573.38 573.55L576.48 579.15Z" fill="#8c8c8c" stroke="#1c1c1c" stroke-width="0.7" stroke-linejoin="miter"/><path d="M565.84 579.15L568.94 573.55L572.04 579.15Z" fill="#8c8c8c" stroke="#1c1c1c" stroke-width="0.7" stroke-linejoin="miter"/><path d="M563.62 579.15L566.72 573.55L569.82 579.15Z" fill="#8c8c8c" stroke="#1c1c1c" stroke-width="0.7" stroke-linejoin="miter"/><path d="M552.52 579.15L555.62 573.55L558.72 579.15Z" fill="#8c8c8c" stroke="#1c1c1c" stroke-width="0.7" stroke-linejoin="miter"/><path d="M693.10 447.78L696.20 442.18L699.30 447.78Z" fill="#8c8c8c" stroke="#1c1c1c" stroke-width="0.7" stroke-linejoin="miter"/><path d="M696.45 447.78L699.55 442.18L702.65 447.78Z" fill="#8c8c8c" stroke="#1c1c1c" stroke-width="0.7" stroke-linejoin="miter"/><path d="M703.15 447.78L706.25 442.18L709.35 447.78Z" fill="#8c8c8c" stroke="#1c1c1c" stroke-width="0.7" stroke-linejoin="miter"/><path d="M699.80 447.78L702.90 442.18L706.00 447.78Z" fill="#8c8c8c" stroke="#1c1c1c" stroke-width="0.7" stroke-linejoin="miter"/><path d="M679.70 447.78L682.80 442.18L685.90 447.78Z" fill="#8c8c8c" stroke="#1c1c1c" stroke-width="0.7" stroke-linejoin="miter"/><path d="M686.40 447.78L689.50 442.18L692.60 447.78Z" fill="#8c8c8c" stroke="#1c1c1c" stroke-width="0.7" stroke-linejoin="miter"/><path d="M706.50 447.78L709.60 442.18L712.70 447.78Z" fill="#8c8c8c" stroke="#1c1c1c" stroke-width="0.7" stroke-linejoin="miter"/><path d="M683.05 447.78L686.15 442.18L689.25 447.78Z" fill="#8c8c8c" stroke="#1c1c1c" stroke-width="0.7" stroke-linejoin="miter"/><path d="M676.35 447.78L679.45 442.18L682.55 447.78Z" fill="#8c8c8c" stroke="#1c1c1c" stroke-width="0.7" stroke-linejoin="miter"/><path d="M709.85 447.78L712.95 442.18L716.05 447.78Z" fill="#8c8c8c" stroke="#1c1c1c" stroke-width="0.7" stroke-linejoin="miter"/><path d="M689.75 447.78L692.85 442.18L695.95 447.78Z" fill="#8c8c8c" stroke="#1c1c1c" stroke-width="0.7" stroke-linejoin="miter"/><path d="M693.10 480.63L696.20 475.03L699.30 480.63Z" fill="#8c8c8c" stroke="#1c1c1c" stroke-width="0.7" stroke-linejoin="miter"/><path d="M682.50 513.47L685.60 507.87L688.70 513.47Z" fill="#8c8c8c" stroke="#1c1c1c" stroke-width="0.7" stroke-linejoin="miter"/><path d="M703.70 513.47L706.80 507.87L709.90 513.47Z" fill="#8c8c8c" stroke="#1c1c1c" stroke-width="0.7" stroke-linejoin="miter"/><path d="M695.22 513.47L698.32 507.87L701.42 513.47Z" fill="#8c8c8c" stroke="#1c1c1c" stroke-width="0.7" stroke-linejoin="miter"/><path d="M684.62 513.47L687.72 507.87L690.82 513.47Z" fill="#8c8c8c" stroke="#1c1c1c" stroke-width="0.7" stroke-linejoin="miter"/><path d="M697.34 513.47L700.44 507.87L703.54 513.47Z" fill="#8c8c8c" stroke="#1c1c1c" stroke-width="0.7" stroke-linejoin="miter"/><path d="M699.46 513.47L702.56 507.87L705.66 513.47Z" fill="#8c8c8c" stroke="#1c1c1c" stroke-width="0.7" stroke-linejoin="miter"/><path d="M690.98 513.47L694.08 507.87L697.18 513.47Z" fill="#8c8c8c" stroke="#1c1c1c" stroke-width="0.7" stroke-linejoin="miter"/><path d="M686.74 513.47L689.84 507.87L692.94 513.47Z" fill="#8c8c8c" stroke="#1c1c1c" stroke-width="0.7" stroke-linejoin="miter"/><path d="M693.10 513.47L696.20 507.87L699.30 513.47Z" fill="#8c8c8c" stroke="#1c1c1c" stroke-width="0.7" stroke-linejoin="miter"/><path d="M701.58 513.47L704.68 507.87L707.78 513.47Z" fill="#8c8c8c" stroke="#1c1c1c" stroke-width="0.7" stroke-linejoin="miter"/><path d="M688.86 513.47L691.96 507.87L695.06 513.47Z" fill="#8c8c8c" stroke="#1c1c1c" stroke-width="0.7" stroke-linejoin="miter"/><path d="M693.10 579.15L696.20 573.55L699.30 579.15Z" fill="#8c8c8c" stroke="#1c1c1c" stroke-width="0.7" stroke-linejoin="miter"/>
<line x1="119.6" x2="119.6" y1="56.70" y2="186.84" stroke="#000" stroke-width="2"/><line x1="172.4" x2="172.4" y1="56.70" y2="121.16" stroke="#000" stroke-width="2"/><line x1="303.8" x2="303.8" y1="56.70" y2="186.84" stroke="#000" stroke-width="2"/><line x1="512.8" x2="512.8" y1="57.15" y2="121.56" stroke="#000" stroke-width="2"/><line x1="643.9" x2="643.9" y1="57.15" y2="121.56" stroke="#000" stroke-width="2"/><line x1="696.4" x2="696.4" y1="57.15" y2="121.56" stroke="#000" stroke-width="2"/><line x1="119.9" x2="119.9" y1="379.60" y2="576.75" stroke="#000" stroke-width="2"/><line x1="172.5" x2="172.5" y1="494.60" y2="576.75" stroke="#000" stroke-width="2"/><line x1="251.0" x2="251.0" y1="379.60" y2="509.84" stroke="#000" stroke-width="2"/><line x1="303.9" x2="303.9" y1="448.30" y2="576.75" stroke="#000" stroke-width="2"/><line x1="512.2" x2="512.2" y1="379.30" y2="576.35" stroke="#000" stroke-width="2"/><line x1="564.5" x2="564.5" y1="513.20" y2="573.60" stroke="#000" stroke-width="2"/><line x1="643.6" x2="643.6" y1="379.30" y2="576.35" stroke="#000" stroke-width="2"/><line x1="696.2" x2="696.2" y1="468.96" y2="576.35" stroke="#000" stroke-width="2"/>
<rect x="93.75" y="53.85" width="6.3" height="5.7" fill="#fff" stroke="#333" stroke-width="0.75"/><rect x="95.75" y="53.85" width="6.3" height="5.7" fill="#fff" stroke="#333" stroke-width="0.75"/><rect x="101.25" y="53.85" width="6.3" height="5.7" fill="#fff" stroke="#333" stroke-width="0.75"/><rect x="107.25" y="53.85" width="6.3" height="5.7" fill="#fff" stroke="#333" stroke-width="0.75"/><rect x="113.25" y="53.85" width="6.3" height="5.7" fill="#fff" stroke="#333" stroke-width="0.75"/><rect x="119.25" y="53.85" width="6.3" height="5.7" fill="#fff" stroke="#333" stroke-width="0.75"/><rect x="120.25" y="53.85" width="6.3" height="5.7" fill="#fff" stroke="#333" stroke-width="0.75"/><rect x="123.25" y="53.85" width="6.3" height="5.7" fill="#fff" stroke="#333" stroke-width="0.75"/><rect x="124.25" y="53.85" width="6.3" height="5.7" fill="#fff" stroke="#333" stroke-width="0.75"/><rect x="128.75" y="53.85" width="6.3" height="5.7" fill="#fff" stroke="#333" stroke-width="0.75"/><rect x="134.75" y="53.85" width="6.3" height="5.7" fill="#fff" stroke="#333" stroke-width="0.75"/><rect x="139.15" y="53.85" width="6.3" height="5.7" fill="#fff" stroke="#333" stroke-width="0.75"/><rect x="224.75" y="53.85" width="6.3" height="5.7" fill="#fff" stroke="#333" stroke-width="0.75"/><rect x="230.75" y="53.85" width="6.3" height="5.7" fill="#fff" stroke="#333" stroke-width="0.75"/><rect x="236.75" y="53.85" width="6.3" height="5.7" fill="#fff" stroke="#333" stroke-width="0.75"/><rect x="237.75" y="53.85" width="6.3" height="5.7" fill="#fff" stroke="#333" stroke-width="0.75"/><rect x="238.75" y="53.85" width="6.3" height="5.7" fill="#fff" stroke="#333" stroke-width="0.75"/><rect x="239.75" y="53.85" width="6.3" height="5.7" fill="#fff" stroke="#333" stroke-width="0.75"/><rect x="242.75" y="53.85" width="6.3" height="5.7" fill="#fff" stroke="#333" stroke-width="0.75"/><rect x="248.75" y="53.85" width="6.3" height="5.7" fill="#fff" stroke="#333" stroke-width="0.75"/><rect x="250.75" y="53.85" width="6.3" height="5.7" fill="#fff" stroke="#333" stroke-width="0.75"/><rect x="256.25" y="53.85" width="6.3" height="5.7" fill="#fff" stroke="#333" stroke-width="0.75"/><rect x="262.25" y="53.85" width="6.3" height="5.7" fill="#fff" stroke="#333" stroke-width="0.75"/><rect x="267.75" y="53.85" width="6.3" height="5.7" fill="#fff" stroke="#333" stroke-width="0.75"/><rect x="270.15" y="53.85" width="6.3" height="5.7" fill="#fff" stroke="#333" stroke-width="0.75"/><rect x="116.45" y="185.19" width="6.3" height="5.7" fill="#fff" stroke="#333" stroke-width="0.75"/><rect x="486.95" y="54.30" width="6.3" height="5.7" fill="#fff" stroke="#333" stroke-width="0.75"/><rect x="488.95" y="54.30" width="6.3" height="5.7" fill="#fff" stroke="#333" stroke-width="0.75"/><rect x="494.45" y="54.30" width="6.3" height="5.7" fill="#fff" stroke="#333" stroke-width="0.75"/><rect x="499.95" y="54.30" width="6.3" height="5.7" fill="#fff" stroke="#333" stroke-width="0.75"/><rect x="501.95" y="54.30" width="6.3" height="5.7" fill="#fff" stroke="#333" stroke-width="0.75"/><rect x="504.95" y="54.30" width="6.3" height="5.7" fill="#fff" stroke="#333" stroke-width="0.75"/><rect x="510.45" y="54.30" width="6.3" height="5.7" fill="#fff" stroke="#333" stroke-width="0.75"/><rect x="514.95" y="54.30" width="6.3" height="5.7" fill="#fff" stroke="#333" stroke-width="0.75"/><rect x="520.45" y="54.30" width="6.3" height="5.7" fill="#fff" stroke="#333" stroke-width="0.75"/><rect x="525.95" y="54.30" width="6.3" height="5.7" fill="#fff" stroke="#333" stroke-width="0.75"/><rect x="526.95" y="54.30" width="6.3" height="5.7" fill="#fff" stroke="#333" stroke-width="0.75"/><rect x="532.35" y="54.30" width="6.3" height="5.7" fill="#fff" stroke="#333" stroke-width="0.75"/><rect x="618.05" y="54.30" width="6.3" height="5.7" fill="#fff" stroke="#333" stroke-width="0.75"/><rect x="620.05" y="54.30" width="6.3" height="5.7" fill="#fff" stroke="#333" stroke-width="0.75"/><rect x="623.05" y="54.30" width="6.3" height="5.7" fill="#fff" stroke="#333" stroke-width="0.75"/><rect x="624.05" y="54.30" width="6.3" height="5.7" fill="#fff" stroke="#333" stroke-width="0.75"/><rect x="629.55" y="54.30" width="6.3" height="5.7" fill="#fff" stroke="#333" stroke-width="0.75"/><rect x="634.05" y="54.30" width="6.3" height="5.7" fill="#fff" stroke="#333" stroke-width="0.75"/><rect x="638.55" y="54.30" width="6.3" height="5.7" fill="#fff" stroke="#333" stroke-width="0.75"/><rect x="640.55" y="54.30" width="6.3" height="5.7" fill="#fff" stroke="#333" stroke-width="0.75"/><rect x="641.55" y="54.30" width="6.3" height="5.7" fill="#fff" stroke="#333" stroke-width="0.75"/><rect x="642.55" y="54.30" width="6.3" height="5.7" fill="#fff" stroke="#333" stroke-width="0.75"/><rect x="643.55" y="54.30" width="6.3" height="5.7" fill="#fff" stroke="#333" stroke-width="0.75"/><rect x="648.05" y="54.30" width="6.3" height="5.7" fill="#fff" stroke="#333" stroke-width="0.75"/><rect x="653.55" y="54.30" width="6.3" height="5.7" fill="#fff" stroke="#333" stroke-width="0.75"/><rect x="656.55" y="54.30" width="6.3" height="5.7" fill="#fff" stroke="#333" stroke-width="0.75"/><rect x="662.55" y="54.30" width="6.3" height="5.7" fill="#fff" stroke="#333" stroke-width="0.75"/><rect x="663.45" y="54.30" width="6.3" height="5.7" fill="#fff" stroke="#333" stroke-width="0.75"/><rect x="509.65" y="119.91" width="6.3" height="5.7" fill="#fff" stroke="#333" stroke-width="0.75"/><rect x="640.75" y="119.91" width="6.3" height="5.7" fill="#fff" stroke="#333" stroke-width="0.75"/><rect x="94.05" y="376.75" width="6.3" height="5.7" fill="#fff" stroke="#333" stroke-width="0.75"/><rect x="99.55" y="376.75" width="6.3" height="5.7" fill="#fff" stroke="#333" stroke-width="0.75"/><rect x="102.55" y="376.75" width="6.3" height="5.7" fill="#fff" stroke="#333" stroke-width="0.75"/><rect x="108.05" y="376.75" width="6.3" height="5.7" fill="#fff" stroke="#333" stroke-width="0.75"/><rect x="111.05" y="376.75" width="6.3" height="5.7" fill="#fff" stroke="#333" stroke-width="0.75"/><rect x="117.05" y="376.75" width="6.3" height="5.7" fill="#fff" stroke="#333" stroke-width="0.75"/><rect x="122.55" y="376.75" width="6.3" height="5.7" fill="#fff" stroke="#333" stroke-width="0.75"/><rect x="128.55" y="376.75" width="6.3" height="5.7" fill="#fff" stroke="#333" stroke-width="0.75"/><rect x="134.05" y="376.75" width="6.3" height="5.7" fill="#fff" stroke="#333" stroke-width="0.75"/><rect x="139.45" y="376.75" width="6.3" height="5.7" fill="#fff" stroke="#333" stroke-width="0.75"/><rect x="225.15" y="376.75" width="6.3" height="5.7" fill="#fff" stroke="#333" stroke-width="0.75"/><rect x="231.15" y="376.75" width="6.3" height="5.7" fill="#fff" stroke="#333" stroke-width="0.75"/><rect x="236.65" y="376.75" width="6.3" height="5.7" fill="#fff" stroke="#333" stroke-width="0.75"/><rect x="242.65" y="376.75" width="6.3" height="5.7" fill="#fff" stroke="#333" stroke-width="0.75"/><rect x="243.65" y="376.75" width="6.3" height="5.7" fill="#fff" stroke="#333" stroke-width="0.75"/><rect x="248.15" y="376.75" width="6.3" height="5.7" fill="#fff" stroke="#333" stroke-width="0.75"/><rect x="254.15" y="376.75" width="6.3" height="5.7" fill="#fff" stroke="#333" stroke-width="0.75"/><rect x="257.15" y="376.75" width="6.3" height="5.7" fill="#fff" stroke="#333" stroke-width="0.75"/><rect x="258.15" y="376.75" width="6.3" height="5.7" fill="#fff" stroke="#333" stroke-width="0.75"/><rect x="259.15" y="376.75" width="6.3" height="5.7" fill="#fff" stroke="#333" stroke-width="0.75"/><rect x="261.15" y="376.75" width="6.3" height="5.7" fill="#fff" stroke="#333" stroke-width="0.75"/><rect x="266.65" y="376.75" width="6.3" height="5.7" fill="#fff" stroke="#333" stroke-width="0.75"/><rect x="270.55" y="376.75" width="6.3" height="5.7" fill="#fff" stroke="#333" stroke-width="0.75"/><rect x="116.75" y="442.46" width="6.3" height="5.7" fill="#fff" stroke="#333" stroke-width="0.75"/><rect x="115.25" y="508.19" width="6.3" height="5.7" fill="#fff" stroke="#333" stroke-width="0.75"/><rect x="118.25" y="508.19" width="6.3" height="5.7" fill="#fff" stroke="#333" stroke-width="0.75"/><rect x="116.75" y="573.90" width="6.3" height="5.7" fill="#fff" stroke="#333" stroke-width="0.75"/><rect x="246.35" y="442.46" width="6.3" height="5.7" fill="#fff" stroke="#333" stroke-width="0.75"/><rect x="249.35" y="442.46" width="6.3" height="5.7" fill="#fff" stroke="#333" stroke-width="0.75"/><rect x="245.05" y="508.19" width="6.3" height="5.7" fill="#fff" stroke="#333" stroke-width="0.75"/><rect x="250.65" y="508.19" width="6.3" height="5.7" fill="#fff" stroke="#333" stroke-width="0.75"/><rect x="486.35" y="376.45" width="6.3" height="5.7" fill="#fff" stroke="#333" stroke-width="0.75"/><rect x="489.35" y="376.45" width="6.3" height="5.7" fill="#fff" stroke="#333" stroke-width="0.75"/><rect x="491.35" y="376.45" width="6.3" height="5.7" fill="#fff" stroke="#333" stroke-width="0.75"/><rect x="495.85" y="376.45" width="6.3" height="5.7" fill="#fff" stroke="#333" stroke-width="0.75"/><rect x="501.35" y="376.45" width="6.3" height="5.7" fill="#fff" stroke="#333" stroke-width="0.75"/><rect x="502.35" y="376.45" width="6.3" height="5.7" fill="#fff" stroke="#333" stroke-width="0.75"/><rect x="503.35" y="376.45" width="6.3" height="5.7" fill="#fff" stroke="#333" stroke-width="0.75"/><rect x="509.35" y="376.45" width="6.3" height="5.7" fill="#fff" stroke="#333" stroke-width="0.75"/><rect x="514.85" y="376.45" width="6.3" height="5.7" fill="#fff" stroke="#333" stroke-width="0.75"/><rect x="515.85" y="376.45" width="6.3" height="5.7" fill="#fff" stroke="#333" stroke-width="0.75"/><rect x="518.85" y="376.45" width="6.3" height="5.7" fill="#fff" stroke="#333" stroke-width="0.75"/><rect x="524.35" y="376.45" width="6.3" height="5.7" fill="#fff" stroke="#333" stroke-width="0.75"/><rect x="525.35" y="376.45" width="6.3" height="5.7" fill="#fff" stroke="#333" stroke-width="0.75"/><rect x="530.85" y="376.45" width="6.3" height="5.7" fill="#fff" stroke="#333" stroke-width="0.75"/><rect x="531.75" y="376.45" width="6.3" height="5.7" fill="#fff" stroke="#333" stroke-width="0.75"/><rect x="617.75" y="376.45" width="6.3" height="5.7" fill="#fff" stroke="#333" stroke-width="0.75"/><rect x="619.75" y="376.45" width="6.3" height="5.7" fill="#fff" stroke="#333" stroke-width="0.75"/><rect x="622.75" y="376.45" width="6.3" height="5.7" fill="#fff" stroke="#333" stroke-width="0.75"/><rect x="627.25" y="376.45" width="6.3" height="5.7" fill="#fff" stroke="#333" stroke-width="0.75"/><rect x="629.25" y="376.45" width="6.3" height="5.7" fill="#fff" stroke="#333" stroke-width="0.75"/><rect x="631.25" y="376.45" width="6.3" height="5.7" fill="#fff" stroke="#333" stroke-width="0.75"/><rect x="636.75" y="376.45" width="6.3" height="5.7" fill="#fff" stroke="#333" stroke-width="0.75"/><rect x="637.75" y="376.45" width="6.3" height="5.7" fill="#fff" stroke="#333" stroke-width="0.75"/><rect x="638.75" y="376.45" width="6.3" height="5.7" fill="#fff" stroke="#333" stroke-width="0.75"/><rect x="640.75" y="376.45" width="6.3" height="5.7" fill="#fff" stroke="#333" stroke-width="0.75"/><rect x="642.75" y="376.45" width="6.3" height="5.7" fill="#fff" stroke="#333" stroke-width="0.75"/><rect x="648.75" y="376.45" width="6.3" height="5.7" fill="#fff" stroke="#333" stroke-width="0.75"/><rect x="654.25" y="376.45" width="6.3" height="5.7" fill="#fff" stroke="#333" stroke-width="0.75"/><rect x="656.25" y="376.45" width="6.3" height="5.7" fill="#fff" stroke="#333" stroke-width="0.75"/><rect x="660.75" y="376.45" width="6.3" height="5.7" fill="#fff" stroke="#333" stroke-width="0.75"/><rect x="663.15" y="376.45" width="6.3" height="5.7" fill="#fff" stroke="#333" stroke-width="0.75"/><rect x="506.30" y="442.13" width="6.3" height="5.7" fill="#fff" stroke="#333" stroke-width="0.75"/><rect x="511.80" y="442.13" width="6.3" height="5.7" fill="#fff" stroke="#333" stroke-width="0.75"/><rect x="509.05" y="507.82" width="6.3" height="5.7" fill="#fff" stroke="#333" stroke-width="0.75"/><rect x="509.05" y="573.50" width="6.3" height="5.7" fill="#fff" stroke="#333" stroke-width="0.75"/><rect x="636.45" y="442.13" width="6.3" height="5.7" fill="#fff" stroke="#333" stroke-width="0.75"/><rect x="640.45" y="442.13" width="6.3" height="5.7" fill="#fff" stroke="#333" stroke-width="0.75"/><rect x="644.45" y="442.13" width="6.3" height="5.7" fill="#fff" stroke="#333" stroke-width="0.75"/><rect x="639.05" y="507.82" width="6.3" height="5.7" fill="#fff" stroke="#333" stroke-width="0.75"/><rect x="641.85" y="507.82" width="6.3" height="5.7" fill="#fff" stroke="#333" stroke-width="0.75"/><rect x="640.45" y="573.50" width="6.3" height="5.7" fill="#fff" stroke="#333" stroke-width="0.75"/>
<text transform="translate(17.3,17.2) scale(1,1.0)" font-size="22.2" font-weight="bold" font-style="normal" text-anchor="start" fill="#111">a</text>
<text transform="translate(410.7,17.2) scale(1,1.0)" font-size="22.2" font-weight="bold" font-style="normal" text-anchor="start" fill="#111">b</text>
<text transform="translate(17.5,339.7) scale(1,1.0)" font-size="22.2" font-weight="bold" font-style="normal" text-anchor="start" fill="#111">c</text>
<text transform="translate(410.3,339.5) scale(1,1.0)" font-size="22.2" font-weight="bold" font-style="normal" text-anchor="start" fill="#111">d</text>
<text transform="translate(145.9,275.1) scale(1,1.06)" font-size="22.0" font-weight="bold" font-style="normal" text-anchor="middle" stroke="#000" stroke-width="0.3">CS+</text>
<text transform="translate(277.4,275.1) scale(1,1.06)" font-size="22.0" font-weight="bold" font-style="normal" text-anchor="middle" stroke="#000" stroke-width="0.3">CS-</text>
<text transform="translate(539.3,275.1) scale(1,1.06)" font-size="22.0" font-weight="bold" font-style="normal" text-anchor="middle" stroke="#000" stroke-width="0.3">CS+</text>
<text transform="translate(670.3,275.1) scale(1,1.06)" font-size="22.0" font-weight="bold" font-style="normal" text-anchor="middle" stroke="#000" stroke-width="0.3">CS-</text>
<text transform="translate(145.9,598.1) scale(1,1.06)" font-size="22.0" font-weight="bold" font-style="normal" text-anchor="middle" stroke="#000" stroke-width="0.3">CS+</text>
<text transform="translate(277.4,598.1) scale(1,1.06)" font-size="22.0" font-weight="bold" font-style="normal" text-anchor="middle" stroke="#000" stroke-width="0.3">CS-</text>
<text transform="translate(539.3,598.1) scale(1,1.06)" font-size="22.0" font-weight="bold" font-style="normal" text-anchor="middle" stroke="#000" stroke-width="0.3">CS+</text>
<text transform="translate(670.3,598.1) scale(1,1.06)" font-size="22.0" font-weight="bold" font-style="normal" text-anchor="middle" stroke="#000" stroke-width="0.3">CS-</text>
<text transform="translate(211.3,305.0) scale(1,1.0)" font-size="21.2" font-weight="normal" font-style="italic" text-anchor="middle" >Experiment 1</text>
<text transform="translate(604.5,305.0) scale(1,1.0)" font-size="21.2" font-weight="normal" font-style="italic" text-anchor="middle" >Experiment 2</text>
<text transform="translate(211.3,628.2) scale(1,1.0)" font-size="21.2" font-weight="normal" font-style="italic" text-anchor="middle" >Experiment 1</text>
<text transform="translate(604.5,628.2) scale(1,1.0)" font-size="21.2" font-weight="normal" font-style="italic" text-anchor="middle" >Experiment 2</text>
<text transform="translate(17.3,151.5) rotate(-90) scale(1,1.045)" stroke="#000" stroke-width="0.25" font-size="21.5" font-weight="bold" text-anchor="middle">REC: Items (%)</text>
<text transform="translate(17.3,474.8) rotate(-90) scale(1,1.045)" stroke="#000" stroke-width="0.25" font-size="21.4" font-weight="bold" text-anchor="middle">REC: Associations (%)</text>
<rect x="275.8" y="669.7" width="21" height="14" fill="#fff" stroke="#000" stroke-width="1.6"/>
<text transform="translate(309.0,682.9) scale(1,1.035)" font-size="18.6" font-weight="normal" font-style="normal" text-anchor="start" >Remember</text>
<rect x="415.8" y="669.7" width="21" height="14" fill="#7f7f7f" stroke="#000" stroke-width="1.6"/>
<text transform="translate(449.0,682.9) scale(1,1.035)" font-size="18.6" font-weight="normal" font-style="normal" text-anchor="start" >Forget</text>
</svg>
</body></html>
